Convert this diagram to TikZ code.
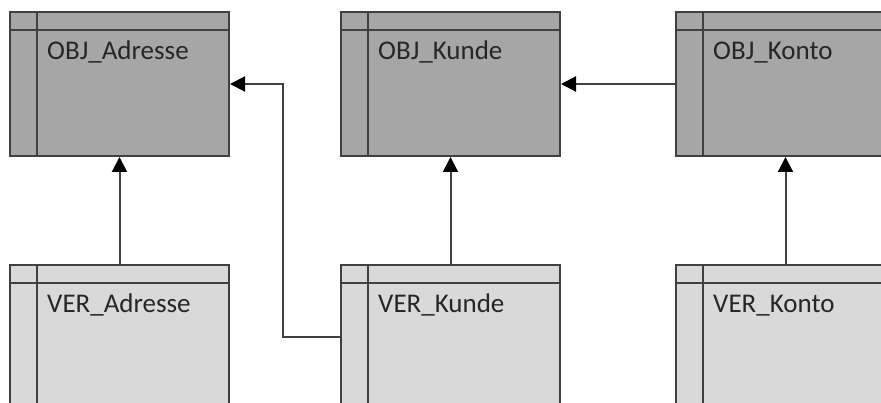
\documentclass[tikz,border=0pt]{standalone}
\usepackage{fontspec}
\setmainfont{Carlito}
\usetikzlibrary{arrows.meta, positioning}
\definecolor{objgrau}{HTML}{A6A6A6}
\definecolor{vergrau}{HTML}{D9D9D9}
\definecolor{rand}{HTML}{404040}

\begin{document}
\begin{tikzpicture}[x=1pt, y=-1pt,
    tabelle/.style={draw=rand, line width=2pt, rectangle, anchor=north west,
      minimum width=219pt, minimum height=144pt, inner sep=0pt,
      path picture={
        \draw[rand, line width=2pt]
          ([yshift=-18pt]path picture bounding box.north west) -- ([yshift=-18pt]path picture bounding box.north east);
        \draw[rand, line width=2pt]
          ([xshift=27pt]path picture bounding box.north west) -- ([xshift=27pt]path picture bounding box.south west);
      }},
    obj/.style={tabelle, fill=objgrau},
    ver/.style={tabelle, fill=vergrau},
    titel/.style={anchor=base west, inner sep=0pt, text=black!85,
      font=\fontsize{27}{32}\selectfont},
    pfeil/.style={draw=rand, line width=2pt,
      -{Triangle[length=15pt, width=15pt, color=black]}}
  ]
    \useasboundingbox[fill=white] (0,0) rectangle (881,403);
    \clip (0,0) rectangle (881,403);
    % Objekt-Tabellen
    \node[obj] (objadr) at (9,11) {};
    \node[obj] (objkun) at (340,11) {};
    \node[obj] (objkon) at (675,11) {};
    % Versions-Tabellen
    \node[ver] (veradr) at (9,264) {};
    \node[ver] (verkun) at (340,264) {};
    \node[ver] (verkon) at (675,264) {};
    % Titel
    \node[titel] (objadr-t) at ([shift={(38pt,-49pt)}]objadr.north west) {OBJ\_Adresse};
    \node[titel] (objkun-t) at ([shift={(38pt,-49pt)}]objkun.north west) {OBJ\_Kunde};
    \node[titel] (objkon-t) at ([shift={(38pt,-49pt)}]objkon.north west) {OBJ\_Konto};
    \node[titel] (veradr-t) at ([shift={(38pt,-49pt)}]veradr.north west) {VER\_Adresse};
    \node[titel] (verkun-t) at ([shift={(38pt,-49pt)}]verkun.north west) {VER\_Kunde};
    \node[titel] (verkon-t) at ([shift={(38pt,-49pt)}]verkon.north west) {VER\_Konto};
    % Beziehungen
    \draw[pfeil] (veradr) -- (objadr);
    \draw[pfeil] (verkun) -- (objkun);
    \draw[pfeil] (verkon.north) -- (objkon.south);
    \draw[pfeil] (objkon.west) -- (objkun.east);
    \draw[pfeil] (verkun.west) -- ++(-57,0) |- (objadr.east);
\end{tikzpicture}
\end{document}
